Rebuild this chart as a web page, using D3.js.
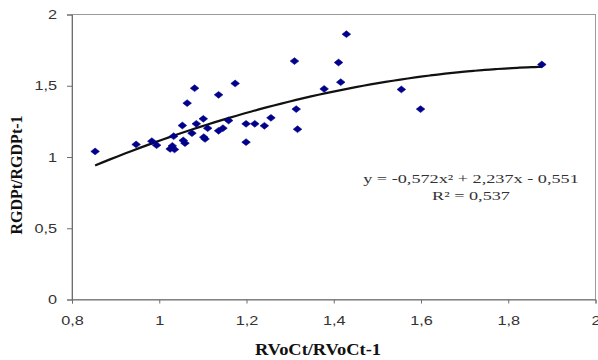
<!DOCTYPE html>
<html>
<head>
<meta charset="utf-8">
<script src="https://cdn.jsdelivr.net/npm/d3@7"></script>
<style>
  html, body { margin: 0; padding: 0; background: #fff; }
  svg { display: block; }
</style>
</head>
<body>
<svg id="chart" width="598" height="360"></svg>
<script>
const rvoc = [0.853, 0.947, 0.983, 0.994, 1.025, 1.030, 1.035, 1.033, 1.053, 1.055,
  1.059, 1.064, 1.075, 1.081, 1.085, 1.101, 1.102, 1.105, 1.111, 1.136,
  1.136, 1.146, 1.159, 1.174, 1.199, 1.199, 1.219, 1.241, 1.256, 1.310,
  1.314, 1.317, 1.378, 1.411, 1.416, 1.429, 1.555, 1.599, 1.877]
const rgdp = [1.039, 1.088, 1.111, 1.083, 1.057, 1.078, 1.053, 1.146, 1.221, 1.116,
  1.097, 1.378, 1.167, 1.483, 1.233, 1.268, 1.139, 1.127, 1.202, 1.436,
  1.184, 1.202, 1.256, 1.516, 1.233, 1.104, 1.233, 1.219, 1.275, 1.673,
  1.336, 1.195, 1.478, 1.663, 1.525, 1.862, 1.474, 1.336, 1.649]

// Polynomial trendline coefficients shown on the chart (a, b, c)
const trendCoef = [-0.572, 2.237, -0.551]
const trendLabels = ['y = -0,572x² + 2,237x - 0,551', 'R² = 0,537']

const xTicks = [0.8, 1, 1.2, 1.4, 1.6, 1.8, 2]
const yTicks = [0, 0.5, 1, 1.5, 2]
const xTitle = 'RVoCt/RVoCt-1'
const yTitle = 'RGDPt/RGDPt-1'

const W = 598, H = 360
const margin = { top: 14.5, right: 2.5, bottom: 60.5, left: 72 }

const svg = d3.select('#chart')
const fmt = d => String(d).replace('.', ',')

const x = d3.scaleLinear().domain([0.8, 2]).range([margin.left, W - margin.right])
const y = d3.scaleLinear().domain([0, 2]).range([H - margin.bottom, margin.top])

// Plot frame
svg.append('rect')
  .attr('x', x(0.8)).attr('y', y(2))
  .attr('width', x(2) - x(0.8)).attr('height', y(0) - y(2))
  .attr('fill', 'none')
  .attr('stroke', '#9a9a9a')
  .attr('stroke-width', 1)

// the source image is stretched sideways, so text is widened to match
const stretch = (sel, k) => sel.each(function () {
  const len = this.getComputedTextLength()
  d3.select(this).attr('textLength', len * k).attr('lengthAdjust', 'spacingAndGlyphs')
})

// Axes
const xAxis = svg.append('g')
  .attr('transform', `translate(0,${y(0)})`)
  .call(d3.axisBottom(x).tickValues(xTicks).tickFormat(fmt).tickSize(4).tickPadding(12))
const yAxis = svg.append('g')
  .attr('transform', `translate(${x(0.8)},0)`)
  .call(d3.axisLeft(y).tickValues(yTicks).tickFormat(fmt).tickSize(5).tickPadding(10))

for (const ax of [xAxis, yAxis]) {
  ax.select('.domain').attr('stroke', '#6e6e6e')
  ax.selectAll('.tick line').attr('stroke', '#6e6e6e')
  ax.selectAll('.tick text')
    .attr('fill', '#333')
    .style('font-family', '"Liberation Sans", Arial, sans-serif')
    .style('font-size', '13px')
    .call(stretch, 1.25)
}

// Trendline from the displayed polynomial
const [a, b, c] = trendCoef
const xs = d3.range(0, 61).map(i => d3.min(rvoc) + (d3.max(rvoc) - d3.min(rvoc)) * i / 60)
svg.append('path')
  .datum(xs)
  .attr('fill', 'none')
  .attr('stroke', '#111')
  .attr('stroke-width', 2.2)
  .attr('d', d3.line().x(d => x(d)).y(d => y(a * d * d + b * d + c)).curve(d3.curveMonotoneX))

// Diamond markers
const pts = rvoc.map((v, i) => [v, rgdp[i]])
svg.append('g')
  .selectAll('path')
  .data(pts)
  .join('path')
  .attr('d', 'M0,-3.4L4.3,0L0,3.4L-4.3,0Z')
  .attr('transform', d => `translate(${x(d[0])},${y(d[1])})`)
  .attr('fill', '#00008b')
  .attr('stroke', '#00008b')
  .attr('stroke-width', 0.6)

// Equation label
const eq = svg.append('g')
  .style('font-family', '"Liberation Serif", "Times New Roman", serif')
  .style('font-size', '13px')
  .attr('fill', '#333')
eq.selectAll('text')
  .data(trendLabels)
  .join('text')
  .attr('x', 471)
  .attr('y', (d, i) => 183 + i * 17)
  .attr('text-anchor', 'middle')
  .text(d => d)
  .call(stretch, 1.4)

// Axis titles
svg.append('text')
  .attr('x', 318)
  .attr('y', 355)
  .attr('text-anchor', 'middle')
  .style('font-family', '"Liberation Serif", "Times New Roman", serif')
  .style('font-weight', 'bold')
  .style('font-size', '16px')
  .attr('fill', '#111')
  .text(xTitle)
  .call(stretch, 1.15)

svg.append('text')
  .attr('transform', 'translate(22,175) rotate(-90)')
  .attr('text-anchor', 'middle')
  .style('font-family', '"Liberation Serif", "Times New Roman", serif')
  .style('font-weight', 'bold')
  .style('font-size', '16px')
  .attr('fill', '#111')
  .text(yTitle)
</script>
</body>
</html>
